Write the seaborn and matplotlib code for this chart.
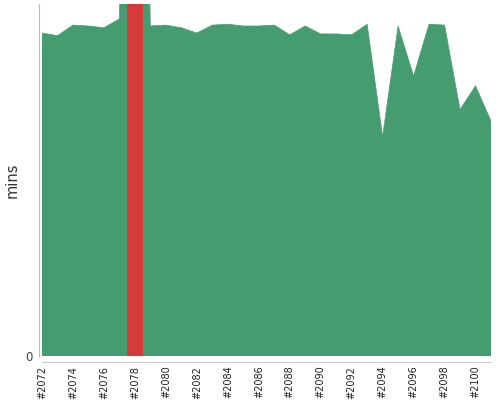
import numpy as np
import pandas as pd
import matplotlib
matplotlib.use("Agg")
import matplotlib.pyplot as plt
from matplotlib.ticker import MultipleLocator, FixedLocator, FixedFormatter
import seaborn as sns

# build numbers and duration (mins)
builds = list(range(2072, 2102))
mins = [36.7, 36.4, 37.6, 37.5, 37.3, 38.3, 120.0, 37.5, 37.6, 37.3,
        36.7, 37.6, 37.7, 37.5, 37.5, 37.6, 36.5, 37.5, 36.6, 36.6,
        36.5, 37.7, 24.9, 37.5, 31.8, 37.7, 37.6, 28.0, 30.7, 26.7]
highlight_build = 2078
y_top = 40

GREEN = "#459c6e"
RED = "#d63a3a"

df = pd.DataFrame({"build": builds, "mins": mins})

sns.set_style("white")
plt.rcParams['font.family'] = ['DejaVu Sans']

fig = plt.figure(figsize=(5, 4), dpi=100)
ax = fig.add_axes([0.084, 0.11, 0.898, 0.88])

sns.lineplot(data=df, x="build", y="mins", ax=ax, color=GREEN, linewidth=0.5)
ax.fill_between(df["build"], 0, df["mins"], color=GREEN, linewidth=0)
ax.axvspan(highlight_build - 0.5, highlight_build + 0.5, color=RED, linewidth=0, zorder=3)

ax.set_xlim(builds[0], builds[-1])
ax.set_ylim(0, y_top)

# x ticks: label every other build, small tick at each
ax.xaxis.set_major_locator(FixedLocator(builds[::2]))
ax.xaxis.set_major_formatter(FixedFormatter(["#%d" % b for b in builds[::2]]))
ax.xaxis.set_minor_locator(MultipleLocator(1))
ax.tick_params(axis="x", which="both", direction="in", length=3, color="#aaaaaa",
               pad=3, labelrotation=90, labelsize=7, labelcolor="#222222")

ax.yaxis.set_major_locator(FixedLocator([0]))
ax.tick_params(axis="y", length=0, pad=5, labelsize=8.5, labelcolor="#444444")

ax.set_xlabel("")
ax.set_ylabel("mins", fontsize=10.5, color="#333333", labelpad=4)

for side in ["top", "right"]:
    ax.spines[side].set_visible(False)
ax.spines["left"].set_color("#bbbbbb")
ax.spines["left"].set_position(("outward", 2))
ax.spines["bottom"].set_color("#cccccc")
ax.spines["bottom"].set_position(("outward", 4))

fig.savefig("out.png", dpi=100)
